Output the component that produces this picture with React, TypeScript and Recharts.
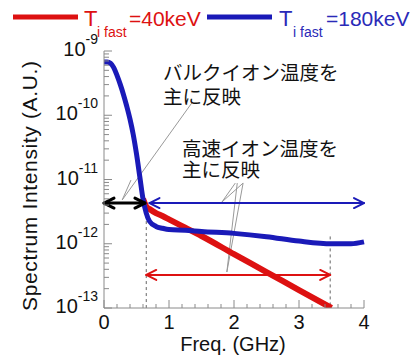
import { LineChart, Line, XAxis, YAxis, ReferenceLine } from 'recharts';

// frequency grid (GHz)
const freq = [0, 0.05, 0.1, 0.15, 0.2, 0.25, 0.3, 0.35, 0.4, 0.45, 0.5, 0.55, 0.6, 0.65, 0.7, 0.8, 0.9, 1.0, 1.25, 1.5, 2.0, 2.5, 3.0, 3.5, 3.8, 4.0];

// T_i fast = 180keV
const blue = [
  6.76e-10, 6.76e-10, 6.46e-10, 5.5e-10, 4.17e-10, 3.02e-10, 2.09e-10, 1.38e-10, 8.7e-11, 5.0e-11,
  2.5e-11, 1.12e-11, 5.0e-12, 3.0e-12, 2.24e-12, 1.86e-12, 1.74e-12, 1.66e-12, 1.62e-12, 1.55e-12,
  1.45e-12, 1.29e-12, 1.1e-12, 1.0e-12, 1.0e-12, 1.07e-12,
];

// T_i fast = 40keV (hidden under the blue curve below 0.6 GHz)
const red = [
  null, null, null, null, null, null, null, null, null, null,
  null, null, 5.0e-12, 3.8e-12, 3.47e-12, 3.0e-12, 2.7e-12, 2.4e-12, 1.78e-12, 1.32e-12,
  6.9e-13, 3.63e-13, 1.9e-13, 1.0e-13, null, null,
];

const xMajor = [0, 1, 2, 3, 4];
const xTicks = [0, 0.2, 0.4, 0.6, 0.8, 1, 1.2, 1.4, 1.6, 1.8, 2, 2.2, 2.4, 2.6, 2.8, 3, 3.2, 3.4, 3.6, 3.8, 4];
const yMajor = [1e-13, 1e-12, 1e-11, 1e-10, 1e-9];
const yTicks = yMajor.flatMap((d, i) =>
  i < yMajor.length - 1 ? [2, 3, 4, 5, 6, 7, 8, 9].map((m) => m * d).concat(d) : [d]
);

// annotation levels
const arrowLevel = 4.3e-12;
const redArrowLevel = 3.27e-13;
const split = 0.63;

const chartData = freq.map((f, i) => ({ f, blue: blue[i], red: red[i] }));

const FRAME = '#8a8a8a';
const LATIN = '"Liberation Sans", Arial, sans-serif';
const JP = '"Noto Sans CJK JP", "Noto Sans", sans-serif';

const isMajorX = (v: number) => xMajor.some((m) => Math.abs(m - v) < 1e-6);
const isMajorY = (v: number) => Math.abs(Math.log10(v) - Math.round(Math.log10(v))) < 1e-6;

function BottomTick({ x, y, payload }: any) {
  const major = isMajorX(payload.value);
  return (
    <g>
      <line x1={x} y1={y} x2={x} y2={y - (major ? 8 : 4)} stroke={FRAME} />
      {major && (
        <text x={x} y={y + 21} textAnchor="middle" fontSize={20} fontFamily={LATIN} fill="#111">
          {payload.value}
        </text>
      )}
    </g>
  );
}

function TopTick({ x, y, payload }: any) {
  const major = isMajorX(payload.value);
  return <line x1={x} y1={y} x2={x} y2={y + (major ? 8 : 4)} stroke={FRAME} />;
}

function LeftTick({ x, y, payload }: any) {
  const major = isMajorY(payload.value);
  const exp = Math.round(Math.log10(payload.value));
  return (
    <g>
      <line x1={x} y1={y} x2={x + (major ? 8 : 5)} y2={y} stroke={FRAME} />
      {major && (
        <text x={x - 6} y={y + 5} textAnchor="end" fontFamily={LATIN} fill="#111">
          <tspan fontSize={20}>10</tspan>
          <tspan fontSize={14} dy={-12}>{exp}</tspan>
        </text>
      )}
    </g>
  );
}

function RightTick({ x, y, payload }: any) {
  const major = isMajorY(payload.value);
  return <line x1={x} y1={y} x2={x - (major ? 8 : 5)} y2={y} stroke={FRAME} />;
}

const arrow = (color: string, width: number) => (props: any) => {
  const { x1, y1, x2, y2 } = props;
  const h = 10;
  const w = 5;
  return (
    <g stroke={color} strokeWidth={width} fill="none" strokeLinecap="round" strokeLinejoin="round">
      <line x1={x1} y1={y1} x2={x2} y2={y2} />
      <polyline points={`${x1 + h},${y1 - w} ${x1},${y1} ${x1 + h},${y1 + w}`} />
      <polyline points={`${x2 - h},${y2 - w} ${x2},${y2} ${x2 - h},${y2 + w}`} />
    </g>
  );
};

const ax = { xAxisId: 'x', yAxisId: 'y' };

export default function App() {
  return (
    <div style={{ position: 'absolute', left: 0, top: 0, width: 412, height: 358, background: '#fff' }}>
      <LineChart width={412} height={358} data={chartData} margin={{ top: 51, right: 48, bottom: 0, left: 0 }}>
        <XAxis
          xAxisId="x"
          dataKey="f"
          type="number"
          domain={[0, 4]}
          ticks={xTicks}
          interval={0}
          height={50}
          tickSize={0}
          tickMargin={0}
          tickLine={false}
          axisLine={{ stroke: FRAME }}
          tick={BottomTick}
        />
        <XAxis
          xAxisId="xt"
          orientation="top"
          type="number"
          domain={[0, 4]}
          ticks={xTicks}
          interval={0}
          height={0}
          tickSize={0}
          tickMargin={0}
          tickLine={false}
          axisLine={{ stroke: FRAME }}
          tick={TopTick}
        />
        <YAxis
          yAxisId="y"
          type="number"
          scale="log"
          domain={[1e-13, 1e-9]}
          allowDataOverflow
          ticks={yTicks}
          interval={0}
          width={104}
          tickSize={0}
          tickMargin={0}
          tickLine={false}
          axisLine={{ stroke: FRAME }}
          tick={LeftTick}
        />
        <YAxis
          yAxisId="yr"
          orientation="right"
          type="number"
          scale="log"
          domain={[1e-13, 1e-9]}
          allowDataOverflow
          ticks={yTicks}
          interval={0}
          width={0}
          tickSize={0}
          tickMargin={0}
          tickLine={false}
          axisLine={{ stroke: FRAME }}
          tick={RightTick}
        />

        {/* dashed guides */}
        <ReferenceLine {...ax} segment={[{ x: 0.65, y: arrowLevel }, { x: 0.65, y: 1e-13 }]} stroke="#666" strokeDasharray="3 3" />
        <ReferenceLine {...ax} segment={[{ x: 3.48, y: 1.3e-12 }, { x: 3.48, y: 1e-13 }]} stroke="#666" strokeDasharray="3 3" />

        {/* pointer lines */}
        <ReferenceLine {...ax} segment={[{ x: 1.35, y: 1.55e-10 }, { x: 0.28, y: 4.8e-12 }]} stroke="#999" />
        <ReferenceLine {...ax} segment={[{ x: 0.415, y: 9.8e-12 }, { x: 0.28, y: 4.8e-12 }]} stroke="#999" />
        <ReferenceLine {...ax} segment={[{ x: 2.14, y: 8.8e-12 }, { x: 1.815, y: 4.47e-12 }]} stroke="#999" />
        <ReferenceLine {...ax} segment={[{ x: 2.02, y: 8.8e-12 }, { x: 1.815, y: 4.47e-12 }]} stroke="#999" />
        <ReferenceLine {...ax} segment={[{ x: 2.14, y: 8.8e-12 }, { x: 1.89, y: 3.63e-13 }]} stroke="#999" />
        <ReferenceLine {...ax} segment={[{ x: 2.05, y: 8.8e-12 }, { x: 1.89, y: 3.63e-13 }]} stroke="#999" />

        <Line {...ax} dataKey="red" type="monotone" stroke="#dd1111" strokeWidth={6} dot={false} isAnimationActive={false} />
        <Line {...ax} dataKey="blue" type="monotone" stroke="#1a1ab8" strokeWidth={5} dot={false} isAnimationActive={false} />

        {/* range arrows */}
        <ReferenceLine {...ax} segment={[{ x: 0, y: arrowLevel }, { x: split, y: arrowLevel }]} shape={arrow('#000', 3)} />
        <ReferenceLine {...ax} segment={[{ x: 0.7, y: arrowLevel }, { x: 4, y: arrowLevel }]} shape={arrow('#1a1ab8', 2)} />
        <ReferenceLine {...ax} segment={[{ x: 0.65, y: redArrowLevel }, { x: 3.48, y: redArrowLevel }]} shape={arrow('#dd1111', 2)} />
      </LineChart>

      <svg width={412} height={358} style={{ position: 'absolute', left: 0, top: 0, pointerEvents: 'none' }}>
        {/* legend */}
        <line x1={13} y1={17} x2={78} y2={17} stroke="#dd1111" strokeWidth={5} />
        <text fontFamily={LATIN} fill="#dd1111">
          <tspan x={84} y={26} fontSize={22}>T</tspan>
          <tspan x={97} y={37} fontSize={14}>i fast</tspan>
          <tspan x={129} y={26} fontSize={21}>=40keV</tspan>
        </text>
        <line x1={207} y1={17} x2={272} y2={17} stroke="#1a1ab8" strokeWidth={5} />
        <text fontFamily={LATIN} fill="#2a2ab8">
          <tspan x={279} y={26} fontSize={22}>T</tspan>
          <tspan x={293} y={37} fontSize={14}>i fast</tspan>
          <tspan x={326} y={26} fontSize={21}>=180keV</tspan>
        </text>

        {/* axis titles */}
        <text x={233} y={351} textAnchor="middle" fontSize={20} fontFamily={LATIN} fill="#111">
          Freq. (GHz)
        </text>
        <text
          transform="translate(37,186) rotate(-90)"
          textAnchor="middle"
          fontSize={21}
          fontFamily={LATIN}
          fill="#111"
          textLength={250}
          lengthAdjust="spacing"
        >
          Spectrum Intensity (A.U.)
        </text>

        {/* annotations */}
        <text fontFamily={JP} fontSize={19.5} fill="#111">
          <tspan x={163} y={80}>バルクイオン温度を</tspan>
          <tspan x={163} y={104}>主に反映</tspan>
        </text>
        <text fontFamily={JP} fontSize={19.5} fill="#111">
          <tspan x={182} y={156}>高速イオン温度を</tspan>
          <tspan x={182} y={177}>主に反映</tspan>
        </text>
      </svg>
    </div>
  );
}
